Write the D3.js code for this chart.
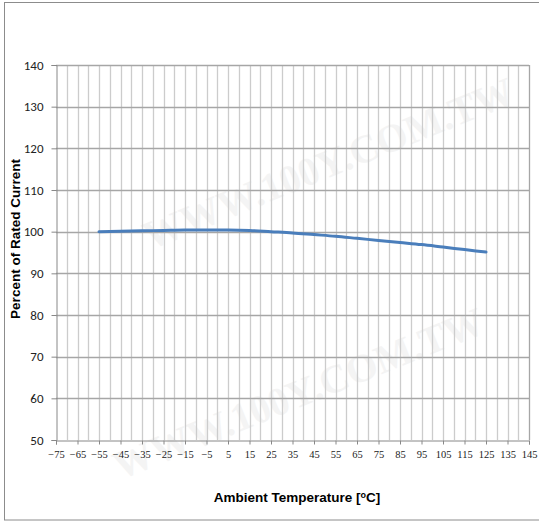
<!DOCTYPE html>
<html>
<head>
<meta charset="utf-8">
<script src="https://cdn.jsdelivr.net/npm/d3@7"></script>
<style>
  body { margin: 0; background: #fff; }
  svg { display: block; }
</style>
</head>
<body>
<div id="chart"></div>
<script>
// Derating curve values
var temps = [-55, -45, -35, -25, -15, -5, 5, 15, 25, 35, 45, 55, 65, 75, 85, 95, 105, 115, 125];
var percent = [100, 100.1, 100.2, 100.3, 100.4, 100.4, 100.4, 100.3, 100.0, 99.7, 99.3, 98.9, 98.4, 97.9, 97.4, 96.9, 96.3, 95.7, 95.1];

var xTicks = [-75, -65, -55, -45, -35, -25, -15, -5, 5, 15, 25, 35, 45, 55, 65, 75, 85, 95, 105, 115, 125, 135, 145];
var yTicks = [50, 60, 70, 80, 90, 100, 110, 120, 130, 140];
var watermarks = ["WWW.100Y.COM.TW", "WWW.100Y.COM.TW"];

var width = 539, height = 522;
var margin = {left: 56, right: 10, top: 65, bottom: 82};

var svg = d3.select("#chart").append("svg")
    .attr("width", width)
    .attr("height", height);

// faint watermark behind everything
var wmPos = [[150, 250], [120, 480]];
svg.selectAll(".wm")
    .data(watermarks)
    .enter().append("text")
    .attr("class", "wm")
    .attr("transform", function (d, i) {
        return "translate(" + wmPos[i][0] + "," + wmPos[i][1] + ") rotate(-22)";
    })
    .attr("font-family", "Liberation Serif, serif")
    .attr("font-size", 40)
    .attr("font-weight", "bold")
    .attr("fill", "#f4f4f4")
    .text(function (d) { return d; });

// outer border
svg.append("rect")
    .attr("x", 4.5).attr("y", 2.5)
    .attr("width", 540).attr("height", 517.5)
    .attr("fill", "none")
    .attr("stroke", "#8c8c8c");

var x = d3.scaleLinear().domain([-75, 145]).range([margin.left, 529]);
var y = d3.scaleLinear().domain([50, 140]).range([440, margin.top]);

// vertical grid every 5 degrees
var vLines = d3.range(-70, 145, 5);
svg.selectAll(".vgrid")
    .data(vLines)
    .enter().append("line")
    .attr("class", "vgrid")
    .attr("x1", function (d) { return Math.round(x(d)) + 0.5; })
    .attr("x2", function (d) { return Math.round(x(d)) + 0.5; })
    .attr("y1", y(140)).attr("y2", y(50))
    .attr("stroke", "#cccccc")
    .attr("stroke-width", 1.3);

// horizontal grid
svg.selectAll(".hgrid")
    .data(yTicks.slice(1))
    .enter().append("line")
    .attr("class", "hgrid")
    .attr("x1", x(-75)).attr("x2", x(145))
    .attr("y1", function (d) { return Math.round(y(d)) + 0.5; })
    .attr("y2", function (d) { return Math.round(y(d)) + 0.5; })
    .attr("stroke", "#a6a6a6")
    .attr("stroke-width", 1.3);

// right edge
svg.append("line")
    .attr("x1", x(145) + 0.5).attr("x2", x(145) + 0.5)
    .attr("y1", y(140)).attr("y2", y(50))
    .attr("stroke", "#a6a6a6").attr("stroke-width", 1.3);

var yAxis = svg.append("g")
    .attr("transform", "translate(" + (margin.left + 0.5) + ",0)")
    .call(d3.axisLeft(y).tickValues(yTicks).tickSize(5).tickPadding(8));
yAxis.selectAll("text")
    .attr("font-family", "Carlito, Liberation Sans, sans-serif")
    .attr("font-size", 13)
    .attr("fill", "#222");

var xAxis = svg.append("g")
    .attr("transform", "translate(0," + (y(50) + 0.5) + ")")
    .call(d3.axisBottom(x).tickValues(xTicks).tickSize(4).tickPadding(6));
xAxis.selectAll("text")
    .attr("font-family", "Liberation Serif, serif")
    .attr("font-size", 10.5)
    .attr("fill", "#222");

svg.selectAll(".domain, .tick line")
    .attr("stroke", "#888");

// the curve
var line = d3.line()
    .x(function (d, i) { return x(temps[i]); })
    .y(function (d) { return y(d); })
    .curve(d3.curveMonotoneX);

svg.append("path")
    .datum(percent)
    .attr("d", line)
    .attr("fill", "none")
    .attr("stroke", "#4a7ebb")
    .attr("stroke-width", 3)
    .attr("stroke-linecap", "round");

// axis titles
svg.append("text")
    .attr("transform", "translate(20,239) rotate(-90)")
    .attr("text-anchor", "middle")
    .attr("font-family", "Liberation Sans, Arial, sans-serif")
    .attr("font-weight", "bold")
    .attr("font-size", 13.5)
    .text("Percent of Rated Current");

var xt = svg.append("text")
    .attr("x", 297).attr("y", 502)
    .attr("text-anchor", "middle")
    .attr("font-family", "Liberation Sans, Arial, sans-serif")
    .attr("font-weight", "bold")
    .attr("font-size", 13.5);
xt.append("tspan").text("Ambient Temperature [");
xt.append("tspan").attr("font-size", 9).attr("dy", -4).text("o");
xt.append("tspan").attr("dy", 4).text("C]");
</script>
</body>
</html>
